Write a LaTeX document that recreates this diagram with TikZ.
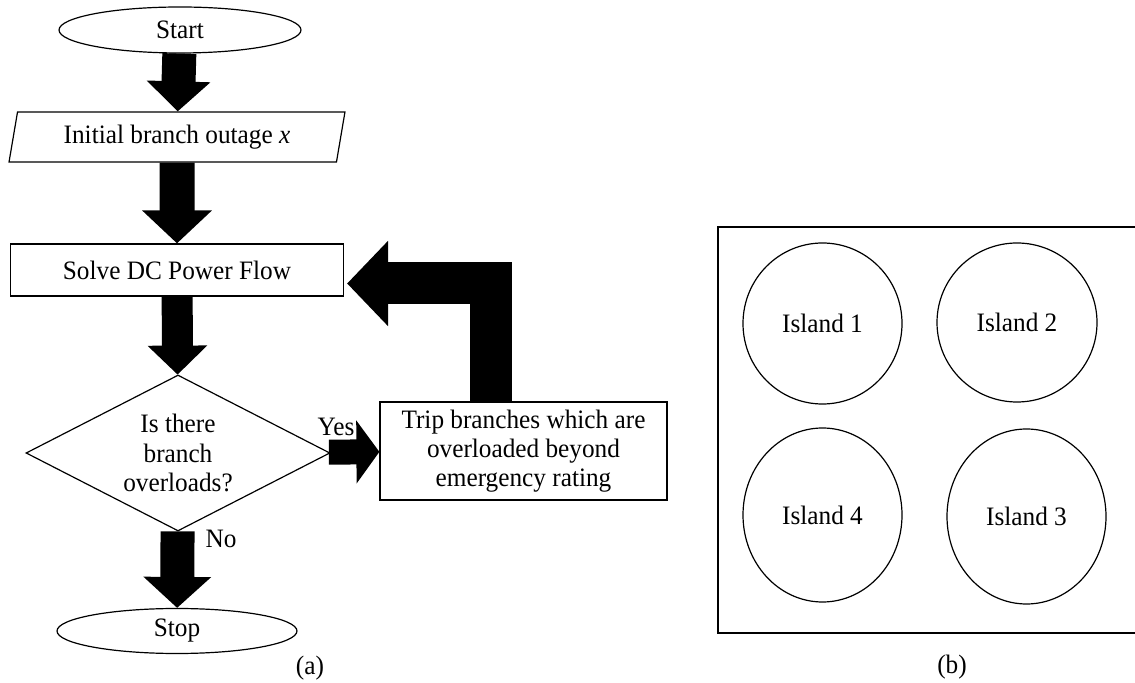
\documentclass[tikz,border=0pt]{standalone}
\usepackage{fontspec}
\setmainfont[FakeStretch=0.95]{Liberation Serif}
\usetikzlibrary{shapes.geometric,arrows.meta,calc}
\begin{document}
\begin{tikzpicture}[x=0.5pt,y=-0.5pt,
  every node/.style={font=\fontsize{13.3}{14.6}\selectfont, inner sep=0pt, align=center},
  outline/.style={draw, line width=0.6pt},
  terminal/.style={outline, ellipse, minimum width=121pt, minimum height=23pt},
  process/.style={outline, rectangle},
  blockarrow/.style n args={3}{line width=#1, line join=miter,
    -{Triangle[length=#3, width=#2]}},
]
\clip (0,0) rectangle (1135,683);

% flowchart (a)
\node[terminal] (start) at (180,30) {Start};
\node[outline, trapezium, trapezium left angle=76, trapezium right angle=104,
      trapezium stretches=true, minimum width=168pt, minimum height=25pt]
      (init) at (177,137) {Initial branch outage \textit{x}};
\node[process, minimum width=166.5pt, minimum height=26pt] (solve) at (177,270) {Solve DC Power Flow};
\node[outline, diamond, aspect=1.95, minimum width=152pt, minimum height=78pt]
      (dec) at (178,453) {Is there\\branch\\overloads?};
\node[process, minimum width=143.5pt, minimum height=49pt] (trip) at (523.5,451)
      {Trip branches which are\\overloaded beyond\\emergency rating};
\node[terminal, minimum width=120pt, minimum height=22.5pt] (stop) at (177,631) {Stop};

\draw[blockarrow={17pt}{31pt}{15pt}] (start) -- (init);
\draw[blockarrow={17.5pt}{34pt}{16.5pt}] (init) -- (solve);
\draw[blockarrow={15.5pt}{29pt}{14.5pt}] (solve) -- (dec);
\draw[blockarrow={17pt}{33pt}{15.5pt}] (dec) -- (stop);
\draw[blockarrow={12.5pt}{31pt}{11.5pt}] (dec) -- (trip);

\coordinate (bend) at (491,283.5);
\coordinate (back) at ($(solve.east |- bend)+(3,0)$);
\draw[blockarrow={21pt}{41.5pt}{20.5pt}] (trip.north -| bend) -- (bend) -- (back);

\node (yes) at (336,427) {Yes};
\node (no) at (221,539) {No};
\node (capa) at (310,668) {(a)};

% island panel (b)
\draw[line width=0.6pt] (718,227) rectangle (1160,633);
\node[outline, ellipse, minimum width=79.5pt, minimum height=80.5pt] (isl1) at (822.5,323.5) {Island 1};
\node[outline, ellipse, minimum width=80pt, minimum height=79.5pt] (isl2) at (1017,322.5) {Island 2};
\node[outline, ellipse, minimum width=79.5pt, minimum height=87pt] (isl4) at (822.5,515) {Island 4};
\node[outline, ellipse, minimum width=79.5pt, minimum height=87.5pt] (isl3) at (1026.5,516.5) {Island 3};
\node (capb) at (952,667) {(b)};
\end{tikzpicture}
\end{document}
